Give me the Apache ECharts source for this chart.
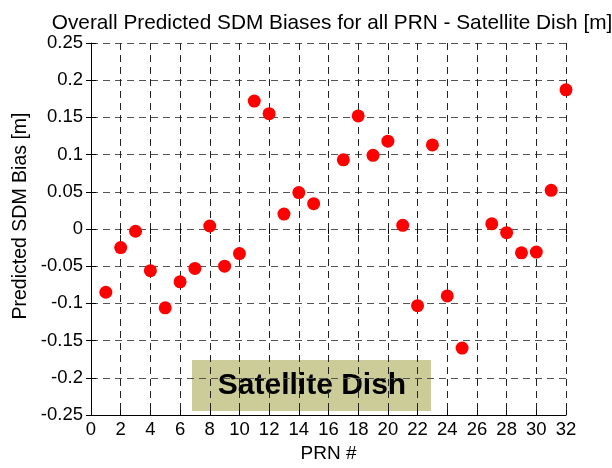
<!DOCTYPE html>
<html><head><meta charset="utf-8">
<script src="https://cdn.jsdelivr.net/npm/echarts@6/dist/echarts.min.js"></script>
<style>html,body{margin:0;padding:0;background:#fff}#c{width:612px;height:468px}</style>
</head><body><div id="c"></div>
<script>
const prn = [1,2,3,4,5,6,7,8,9,10,11,12,13,14,15,17,18,19,20,21,22,23,24,25,27,28,29,30,31,32];
const bias = [-0.085,-0.025,-0.003,-0.056,-0.106,-0.071,-0.053,0.004,-0.050,-0.033,0.172,0.155,0.020,0.049,0.034,0.093,0.152,0.099,0.118,0.005,-0.103,0.113,-0.090,-0.160,0.007,-0.005,-0.032,-0.031,0.052,0.187];
const titleText = 'Overall Predicted SDM Biases for all PRN - Satellite Dish [m]';
const xLabel = 'PRN #';
const yLabel = 'Predicted SDM Bias [m]';
const annotation = 'Satellite Dish';

const font = 'Liberation Sans, Arial, sans-serif';
const chart = echarts.init(document.getElementById('c'), null, {renderer:'canvas'});
const L=91, R=566, T=43, B=419;
const tickInside = {show:true, inside:true, length:5, lineStyle:{color:'#000', width:1}};
chart.setOption({
  animation:false,
  title:{text:titleText, left:327, textAlign:'center', top:8, textStyle:{fontFamily:font, fontSize:20.8, fontWeight:'normal', color:'#000'}},
  grid:{left:L, right:612-R, top:T, bottom:468-B},
  xAxis:[{type:'value', min:0, max:32, interval:2, position:'bottom',
    name:xLabel, nameLocation:'middle', nameGap:29, nameTextStyle:{fontFamily:font, fontSize:19, color:'#000'},
    axisLine:{show:true, onZero:false, lineStyle:{color:'#000', width:1}},
    axisTick:tickInside,
    axisLabel:{fontFamily:font, fontSize:18.5, color:'#000', margin:5},
    splitLine:{show:true, lineStyle:{color:'#222', type:[7,5], width:1}}},
   {type:'value', min:0, max:32, interval:2, position:'top',
    axisLine:{show:false}, axisTick:tickInside, axisLabel:{show:false}, splitLine:{show:false}}],
  yAxis:[{type:'value', min:-0.25, max:0.25, interval:0.05, position:'left',
    axisLine:{show:true, onZero:false, lineStyle:{color:'#000', width:1}},
    axisTick:tickInside,
    axisLabel:{fontFamily:font, fontSize:18.5, color:'#000', margin:8, formatter:v=>String(+v.toFixed(2))},
    splitLine:{show:true, lineStyle:{color:'#555', type:[7,5], width:1}}},
   {type:'value', min:-0.25, max:0.25, interval:0.05, position:'right',
    axisLine:{show:false}, axisTick:tickInside, axisLabel:{show:false}, splitLine:{show:false}}],
  series:[{type:'scatter', data:prn.map((p,i)=>[p,bias[i]]), symbol:'circle', symbolSize:13,
    itemStyle:{color:'#ff0000', opacity:1}, z:5}],
  graphic:[
    {type:'text', x:21, y:216, rotation:Math.PI/2, z:10,
     style:{text:yLabel, textAlign:'center', textVerticalAlign:'middle', fontFamily:font, fontSize:19.5, fill:'#000'}},
    {type:'group', left:192, top:360, z:10, children:[
    {type:'rect', shape:{x:0,y:0,width:239,height:51}, style:{fill:'#cccc99'}},
    {type:'text', style:{x:120, y:26, text:annotation, textAlign:'center', textVerticalAlign:'middle', fontFamily:font, fontSize:30, fontWeight:'bold', fill:'#000'}}
  ]}]
});
</script></body></html>
